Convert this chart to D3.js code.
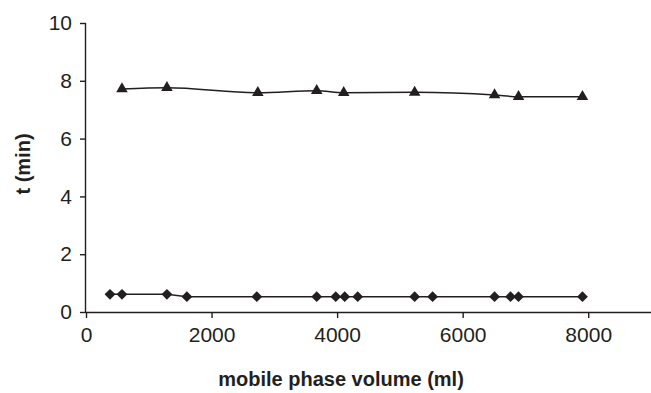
<!DOCTYPE html>
<html>
<head>
<meta charset="utf-8">
<script src="https://cdn.jsdelivr.net/npm/d3@7"></script>
<style>
  body { margin: 0; background: #fff; }
  text { font-family: "Liberation Sans", Arial, sans-serif; fill: #231f20; }
</style>
</head>
<body>
<svg id="chart" width="651" height="393"></svg>
<script>
// upper series (triangles)
const triVolume = [573, 1289, 2737, 3675, 4105, 5235, 6508, 6890, 7908];
const triTime = [7.72, 7.76, 7.59, 7.66, 7.59, 7.6, 7.51, 7.45, 7.45];
// lower series (diamonds)
const diaVolume = [382, 573, 1289, 1607, 2721, 3675, 3978, 4121, 4328, 5235, 5521, 6508, 6762, 6889, 7908];
const diaTime = [0.61, 0.61, 0.61, 0.53, 0.53, 0.53, 0.53, 0.53, 0.53, 0.53, 0.53, 0.53, 0.53, 0.53, 0.53];
const xTicks = [0, 2000, 4000, 6000, 8000];
const yTicks = [0, 2, 4, 6, 8, 10];

const ink = '#231f20';
const svg = d3.select('#chart');

const x = d3.scaleLinear().domain([0, 9000]).range([86, 651]);
const y = d3.scaleLinear().domain([0, 10]).range([312, 23]);

// axes
const xAxis = svg.append('g')
    .attr('transform', 'translate(0,312)')
    .call(d3.axisBottom(x).tickValues(xTicks).tickSize(6).tickPadding(9).tickFormat(d3.format('d')));
const yAxis = svg.append('g')
    .attr('transform', 'translate(86,0)')
    .call(d3.axisLeft(y).tickValues(yTicks).tickSize(6).tickPadding(8).tickFormat(d3.format('d')));

[xAxis, yAxis].forEach(function (g) {
    g.select('.domain').attr('stroke', ink).attr('stroke-width', 1.4);
    g.selectAll('.tick line').attr('stroke', ink).attr('stroke-width', 1.4);
    g.selectAll('.tick text')
        .attr('font-family', '"Liberation Sans", Arial, sans-serif')
        .attr('font-size', 21)
        .attr('fill', ink);
});
// plain axis lines, no outer-tick hooks
xAxis.select('.domain').attr('d', 'M86,0.5H651');
yAxis.select('.domain').attr('d', 'M-0.5,312V23');

// axis titles
svg.append('text')
    .attr('x', 341)
    .attr('y', 386)
    .attr('text-anchor', 'middle')
    .attr('font-size', 20)
    .attr('font-weight', 'bold')
    .text('mobile phase volume (ml)');

svg.append('text')
    .attr('transform', 'translate(30,164) rotate(-90)')
    .attr('text-anchor', 'middle')
    .attr('font-size', 20)
    .attr('font-weight', 'bold')
    .text('t (min)');

// lines
const line = d3.line()
    .x(function (d) { return x(d[0]); })
    .y(function (d) { return y(d[1]); })
    .curve(d3.curveMonotoneX);

const triData = d3.zip(triVolume, triTime);
const diaData = d3.zip(diaVolume, diaTime);

svg.append('path')
    .datum(triData)
    .attr('d', line)
    .attr('fill', 'none')
    .attr('stroke', ink)
    .attr('stroke-width', 1.5);

svg.append('path')
    .datum(diaData)
    .attr('d', d3.line().x(function (d) { return x(d[0]); }).y(function (d) { return y(d[1]); }))
    .attr('fill', 'none')
    .attr('stroke', ink)
    .attr('stroke-width', 1.5);

// markers
svg.selectAll('path.tri')
    .data(triData)
    .join('path')
    .attr('class', 'tri')
    .attr('transform', function (d) { return 'translate(' + x(d[0]) + ',' + y(d[1]) + ')'; })
    .attr('d', d3.symbol().type(d3.symbolTriangle).size(58))
    .attr('fill', ink);

svg.selectAll('path.dia')
    .data(diaData)
    .join('path')
    .attr('class', 'dia')
    .attr('transform', function (d) { return 'translate(' + x(d[0]) + ',' + y(d[1]) + ')'; })
    .attr('d', d3.symbol().type(d3.symbolDiamond2).size(75))
    .attr('fill', ink);
</script>
</body>
</html>
